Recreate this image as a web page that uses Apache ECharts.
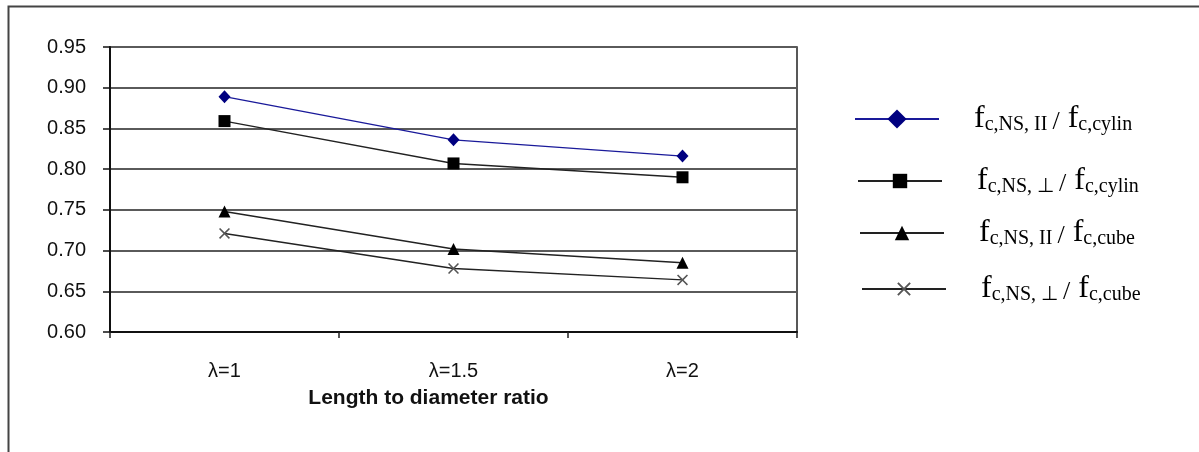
<!DOCTYPE html>
<html>
<head>
<meta charset="utf-8">
<script src="https://cdn.jsdelivr.net/npm/echarts@6/dist/echarts.min.js"></script>
<style>
html,body{margin:0;padding:0;background:#fff;}
#c{width:1199px;height:452px;}
</style>
</head>
<body>
<div id="c"></div>
<script>
const categories = ['λ=1', 'λ=1.5', 'λ=2'];
const yTicks = [0.60, 0.65, 0.70, 0.75, 0.80, 0.85, 0.90, 0.95];
const seriesNames = ['fcNSII_cylin', 'fcNSperp_cylin', 'fcNSII_cube', 'fcNSperp_cube'];
const legendSubs = [['c,NS, II', 'c,cylin'], ['c,NS, ⊥', 'c,cylin'], ['c,NS, II', 'c,cube'], ['c,NS, ⊥', 'c,cube']];
const sCylinPar = [0.889, 0.836, 0.816];
const sCylinPerp = [0.859, 0.807, 0.790];
const sCubePar = [0.748, 0.702, 0.685];
const sCubePerp = [0.721, 0.678, 0.664];

const xPath = 'path://M0,1 L1,0 L5,4 L9,0 L10,1 L6,5 L10,9 L9,10 L5,6 L1,10 L0,9 L4,5 Z';

const chart = echarts.init(document.getElementById('c'), null, {renderer: 'canvas'});

const rich = {
  sp: {width: 30},
  f: {fontFamily: 'Liberation Serif', fontSize: 32, lineHeight: 32, verticalAlign: 'bottom', color: '#000'},
  s: {fontFamily: 'Liberation Serif', fontSize: 20, lineHeight: 23, verticalAlign: 'bottom', color: '#000'},
  sl: {fontFamily: 'Liberation Serif', fontSize: 26, lineHeight: 32, verticalAlign: 'bottom', color: '#000', padding: [0, 8, 0, 5]}
};
function legendText(name) {
  const i = seriesNames.indexOf(name);
  const sub = legendSubs[i];
  return '{sp|}{f|f}{s|' + sub[0] + '}{sl|/}{f|f}{s|' + sub[1] + '}';
}
function mkLegend(i, top, left, itemHeight) {
  return {
    data: [seriesNames[i]], top: top, left: left, padding: 0,
    itemWidth: 84, itemHeight: itemHeight,
    formatter: legendText,
    textStyle: {rich: rich},
    selectedMode: false
  };
}

const option = {
  animation: false,
  backgroundColor: '#fff',
  graphic: [{
    type: 'rect', left: 6, top: 4, silent: true,
    shape: {x: 0, y: 0, width: 1300, height: 600},
    style: {fill: 'none', stroke: '#444', lineWidth: 2}
  }],
  grid: {left: 110, right: 402, top: 47, bottom: 120, show: true, borderColor: '#222', borderWidth: 1.5, backgroundColor: 'transparent'},
  legend: [
    mkLegend(0, 103, 854, 24),
    mkLegend(1, 165, 857, 18),
    mkLegend(2, 217, 859, 18),
    mkLegend(3, 273, 861, 17)
  ],
  xAxis: {
    type: 'category', data: categories, boundaryGap: true,
    axisLine: {lineStyle: {color: '#111', width: 2}},
    axisTick: {show: true, length: 6, lineStyle: {color: '#222', width: 1.5}},
    axisLabel: {margin: 29, fontFamily: 'Liberation Sans', fontSize: 20, color: '#111'},
    name: 'Length to diameter ratio', nameLocation: 'middle', nameGap: 56,
    nameTextStyle: {fontFamily: 'Liberation Sans', fontWeight: 'bold', fontSize: 21, color: '#111', padding: [0, 50, 0, 0]}
  },
  yAxis: {
    type: 'value', min: yTicks[0], max: yTicks[yTicks.length - 1], interval: 0.05,
    axisLine: {show: true, lineStyle: {color: '#111', width: 2}},
    axisTick: {show: true, length: 7, lineStyle: {color: '#111', width: 1.5}},
    axisLabel: {margin: 24, fontFamily: 'Liberation Sans', fontSize: 20, color: '#111', formatter: v => v.toFixed(2)},
    splitLine: {show: true, lineStyle: {color: '#5a5a5a', width: 2}}
  },
  series: [
    {name: seriesNames[0], type: 'line', data: sCylinPar, symbol: 'diamond', symbolSize: [12, 13],
     itemStyle: {color: '#000080'}, lineStyle: {color: '#1a1a9a', width: 1.4}, z: 5},
    {name: seriesNames[1], type: 'line', data: sCylinPerp, symbol: 'rect', symbolSize: 12,
     itemStyle: {color: '#000'}, lineStyle: {color: '#222', width: 1.4}, z: 4},
    {name: seriesNames[2], type: 'line', data: sCubePar, symbol: 'triangle', symbolSize: 12,
     itemStyle: {color: '#000'}, lineStyle: {color: '#222', width: 1.4}, z: 4},
    {name: seriesNames[3], type: 'line', data: sCubePerp, symbol: xPath, symbolSize: 11,
     itemStyle: {color: '#555'}, lineStyle: {color: '#222', width: 1.4}, z: 4}
  ]
};
chart.setOption(option);
</script>
</body>
</html>
